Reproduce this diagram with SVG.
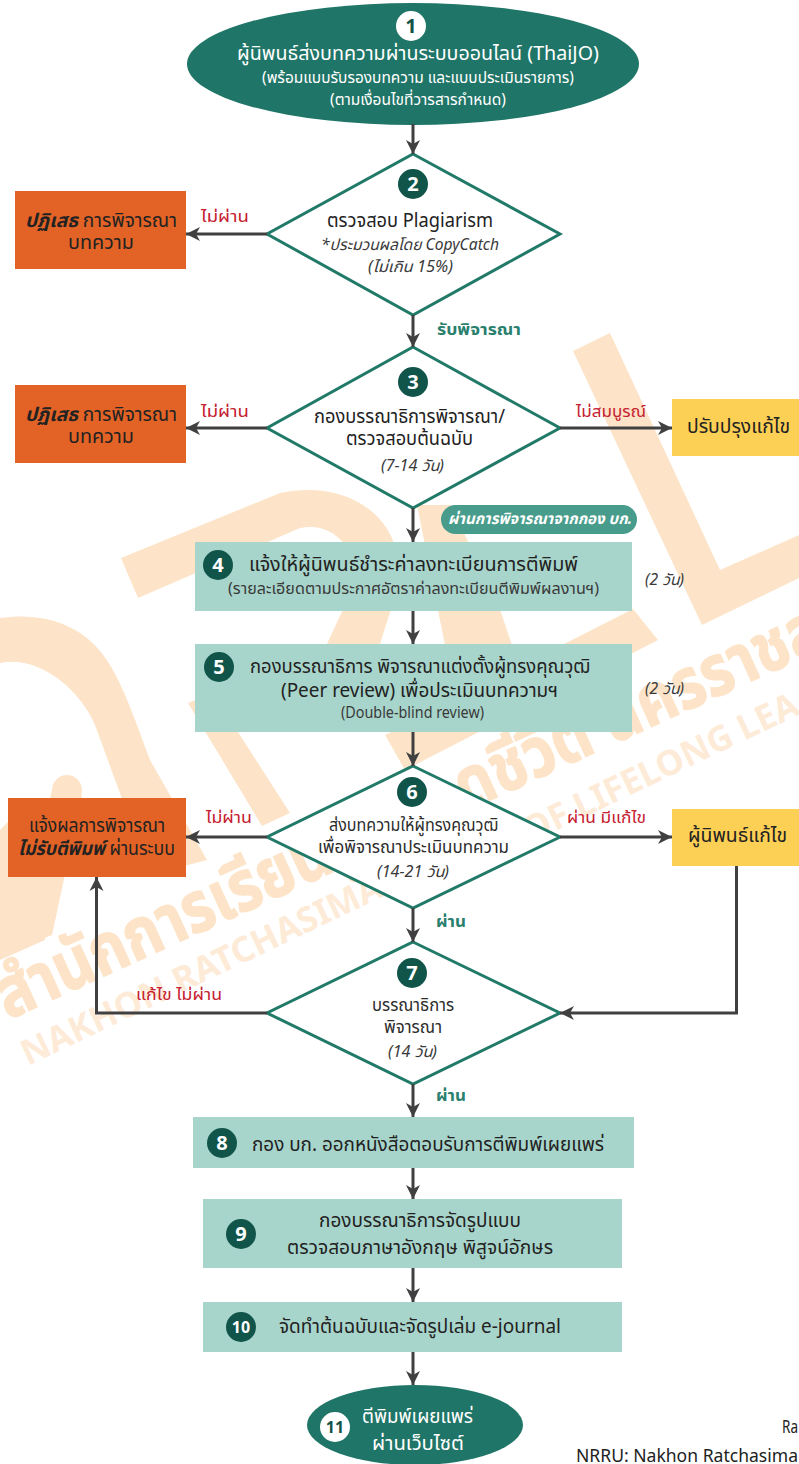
<svg xmlns="http://www.w3.org/2000/svg" width="799" height="1464" viewBox="0 0 799 1464">
<style>
text{font-family:"Noto Sans","Noto Sans Thai","Liberation Sans",sans-serif;fill:#222}
.n{font-size:20px;font-weight:700;fill:#fff;text-anchor:middle}
.nd{font-size:20px;font-weight:700;fill:#135347;text-anchor:middle}
.n2{font-size:16px}
.dot{fill:#10544a}
.wdot{fill:#fff}
.t{font-size:19px}
.m{font-size:17px;fill:#2c2c2c}
.s{font-size:15.500px;fill:#3a3a3a}
.i{font-size:15.500px;font-style:italic;fill:#3a3a3a}
.w{fill:#fff}
.r{font-size:16.500px;fill:#c5202f}
.g{font-size:16.500px;font-weight:700;fill:#2a7f6e}
.dia{fill:#fff;stroke:#217a68;stroke-width:3}
.teal{fill:#a8d5cb}
.red{fill:#e36326}
.yel{fill:#fccf55}
.oval{fill:#1f7567}
.wm{fill:#fde4c8}
.wmt{fill:#fde4c8;stroke:#fde4c8;stroke-width:1.500;font-weight:700;font-size:70px}
.wme{fill:#fdebd8;font-size:35px;font-weight:700}
.c{fill:none;stroke:#404040;stroke-width:3;marker-end:url(#a)}
.b{font-weight:700;font-style:italic}
.f{font-size:17.500px}
</style>
<defs>
<marker id="a" markerUnits="userSpaceOnUse" markerWidth="15" markerHeight="15" refX="14" refY="7" orient="auto" viewBox="0 0 15 14"><path d="M14,7 L0,0 L4,7 L0,14 Z" fill="#404040"/></marker>
</defs>
<rect width="799" height="1464" fill="#fff"/>
<g id="watermark">
<path class="wm" d="M121,558 L138,598 L300,528 C340,520 362,560 352,590 L327,644 L380,644 L397,590 C410,520 350,478 280,493 Z"/>
<path class="wm" d="M417,505 L450,505 L497,600 L530,700 L460,720 L440,620 Z"/>
<path class="wm" d="M188,703 L213,693 L290,813 L262,826 Z"/>
<path class="wm" d="M610,333 L573,351 L702,625 L799,578 L799,535 L720,570 Z"/>
<path class="wm" d="M633,609 L658,640 L405,770 L385,735 Z"/>
<path class="wm" d="M0,618 C40,612 85,622 110,665 C125,690 135,720 150,760 L207,860 L150,875 L95,725 C80,690 40,655 0,663 Z"/>
<circle class="wm" cx="67" cy="790" r="15"/>
<path class="wm" d="M52,790 L82,795 L52,935 L14,950 L0,880 L0,850 L18,940 Z"/>
<path class="wm" d="M0,830 L30,800 L45,940 L0,960 Z"/>
<text class="wmt" transform="translate(8,1020) rotate(-24.5) scale(0.86,1)">สำนักการเรียนรู้ตลอดชีวิต นครราชส</text>
<text class="wme" transform="translate(28,1066) rotate(-25.500)">NAKHON RATCHASIMA</text>
<text class="wme" transform="translate(530,843) rotate(-25.500)">OF LIFELONG LEA</text>
</g>
<g id="node1"><ellipse class="oval" cx="413" cy="64" rx="226" ry="61"/><circle class="wdot" cx="411" cy="26" r="15"/><text class="nd" x="411" y="33">1</text>
<text class="t w" x="237" y="60" textLength="362" lengthAdjust="spacingAndGlyphs">ผู้นิพนธ์ส่งบทความผ่านระบบออนไลน์ (ThaiJO)</text>
<text class="s w" x="262" y="83" textLength="312" lengthAdjust="spacingAndGlyphs">(พร้อมแบบรับรองบทความ และแบบประเมินรายการ)</text>
<text class="s w" x="330" y="105" textLength="176" lengthAdjust="spacingAndGlyphs">(ตามเงื่อนไขที่วารสารกำหนด)</text></g>
<g id="node2"><polygon class="dia" points="413,154 560,234 413,315 267,234"/><circle class="dot" cx="413" cy="184" r="15"/><text class="n" x="413" y="191">2</text>
<text class="t" x="327" y="227" textLength="166" lengthAdjust="spacingAndGlyphs">ตรวจสอบ Plagiarism</text>
<text class="i" x="321" y="250" textLength="178" lengthAdjust="spacingAndGlyphs">*ประมวนผลโดย CopyCatch</text>
<text class="i" x="368" y="272" textLength="85" lengthAdjust="spacingAndGlyphs">(ไม่เกิน 15%)</text></g>
<g id="reject2"><rect class="red" x="15" y="191" width="171" height="78"/>
<text class="t" x="25" y="227" textLength="152" lengthAdjust="spacingAndGlyphs"><tspan class="b">ปฏิเสธ</tspan> การพิจารณา</text>
<text class="t" x="68" y="249" textLength="66" lengthAdjust="spacingAndGlyphs">บทความ</text></g>
<g id="node3"><polygon class="dia" points="413,347 560,428 413,508 267,428"/><circle class="dot" cx="413" cy="382" r="15"/><text class="n" x="413" y="389">3</text>
<text class="t" x="314" y="423" textLength="191" lengthAdjust="spacingAndGlyphs">กองบรรณาธิการพิจารณา/</text>
<text class="t" x="346" y="445" textLength="127" lengthAdjust="spacingAndGlyphs">ตรวจสอบต้นฉบับ</text>
<text class="i" x="381" y="471" textLength="63" lengthAdjust="spacingAndGlyphs">(7-14 วัน)</text></g>
<g id="reject3"><rect class="red" x="15" y="385" width="171" height="78"/>
<text class="t" x="25" y="421" textLength="152" lengthAdjust="spacingAndGlyphs"><tspan class="b">ปฏิเสธ</tspan> การพิจารณา</text>
<text class="t" x="68" y="443" textLength="66" lengthAdjust="spacingAndGlyphs">บทความ</text></g>
<g id="revise3"><rect class="yel" x="672" y="399" width="127" height="57"/>
<text class="t" x="687" y="433" textLength="103" lengthAdjust="spacingAndGlyphs">ปรับปรุงแก้ไข</text></g>
<g id="pill"><rect x="441" y="505" width="196" height="29" rx="14.500" fill="#479c8c"/>
<text class="s w b" x="448" y="524" textLength="184" lengthAdjust="spacingAndGlyphs">ผ่านการพิจารณาจากกอง บก.</text></g>
<g id="node4"><rect class="teal" x="195" y="542" width="437" height="69"/><circle class="dot" cx="218" cy="565" r="15"/><text class="n" x="218" y="572">4</text>
<text class="t" x="249" y="571" textLength="329" lengthAdjust="spacingAndGlyphs">แจ้งให้ผู้นิพนธ์ชำระค่าลงทะเบียนการตีพิมพ์</text>
<text class="s" x="228" y="594" textLength="371" lengthAdjust="spacingAndGlyphs">(รายละเอียดตามประกาศอัตราค่าลงทะเบียนตีพิมพ์ผลงานฯ)</text></g>
<g id="node5"><rect class="teal" x="195" y="644" width="437" height="88"/><circle class="dot" cx="219" cy="667" r="15"/><text class="n" x="219" y="674">5</text>
<text class="t" x="250" y="673" textLength="340" lengthAdjust="spacingAndGlyphs">กองบรรณาธิการ พิจารณาแต่งตั้งผู้ทรงคุณวุฒิ</text>
<text class="t" x="281" y="697" textLength="277" lengthAdjust="spacingAndGlyphs">(Peer review) เพื่อประเมินบทความฯ</text>
<text class="s" x="341" y="718" textLength="143" lengthAdjust="spacingAndGlyphs">(Double-blind review)</text></g>
<g id="time4"><text class="i" x="645" y="585" textLength="39" lengthAdjust="spacingAndGlyphs">(2 วัน)</text></g>
<g id="time5"><text class="i" x="645" y="694" textLength="39" lengthAdjust="spacingAndGlyphs">(2 วัน)</text></g>
<g id="node6"><polygon class="dia" points="413,766 560,837 413,908 267,837"/><circle class="dot" cx="412" cy="792" r="15"/><text class="n" x="412" y="799">6</text>
<text class="m" x="329" y="831" textLength="169" lengthAdjust="spacingAndGlyphs">ส่งบทความให้ผู้ทรงคุณวุฒิ</text>
<text class="m" x="318" y="853" textLength="191" lengthAdjust="spacingAndGlyphs">เพื่อพิจารณาประเมินบทความ</text>
<text class="i" x="377" y="877" textLength="72" lengthAdjust="spacingAndGlyphs">(14-21 วัน)</text></g>
<g id="reject6"><rect class="red" x="8" y="798" width="178" height="79"/>
<text class="t" x="29" y="832" textLength="136" lengthAdjust="spacingAndGlyphs">แจ้งผลการพิจารณา</text>
<text class="t" x="18" y="855" textLength="157" lengthAdjust="spacingAndGlyphs"><tspan class="b">ไม่รับตีพิมพ์</tspan> ผ่านระบบ</text></g>
<g id="revise6"><rect class="yel" x="672" y="809" width="127" height="57"/>
<text class="t" x="688" y="842" textLength="99" lengthAdjust="spacingAndGlyphs">ผู้นิพนธ์แก้ไข</text></g>
<g id="node7"><polygon class="dia" points="413,942 560,1013 413,1084 267,1013"/><circle class="dot" cx="412" cy="973" r="15"/><text class="n" x="412" y="980">7</text>
<text class="m" x="372" y="1011" textLength="82" lengthAdjust="spacingAndGlyphs">บรรณาธิการ</text>
<text class="m" x="384" y="1033" textLength="58" lengthAdjust="spacingAndGlyphs">พิจารณา</text>
<text class="i" x="388" y="1057" textLength="49" lengthAdjust="spacingAndGlyphs">(14 วัน)</text></g>
<g id="node8"><rect class="teal" x="193" y="1117" width="441" height="51"/><circle class="dot" cx="222" cy="1143" r="15"/><text class="n" x="222" y="1150">8</text>
<text class="t" x="252" y="1151" textLength="352" lengthAdjust="spacingAndGlyphs">กอง บก. ออกหนังสือตอบรับการตีพิมพ์เผยแพร่</text></g>
<g id="node9"><rect class="teal" x="203" y="1199" width="419" height="69"/><circle class="dot" cx="241" cy="1234" r="15"/><text class="n" x="241" y="1241">9</text>
<text class="t" x="319" y="1227" textLength="202" lengthAdjust="spacingAndGlyphs">กองบรรณาธิการจัดรูปแบบ</text>
<text class="t" x="287" y="1254" textLength="266" lengthAdjust="spacingAndGlyphs">ตรวจสอบภาษาอังกฤษ พิสูจน์อักษร</text></g>
<g id="node10"><rect class="teal" x="203" y="1302" width="419" height="50"/><circle class="dot" cx="241" cy="1327" r="15"/><text class="n n2" x="241" y="1333">10</text>
<text class="t" x="279" y="1333" textLength="282" lengthAdjust="spacingAndGlyphs">จัดทำต้นฉบับและจัดรูปเล่ม e-journal</text></g>
<g id="node11"><ellipse class="oval" cx="415" cy="1425" rx="108" ry="40"/><circle class="wdot" cx="335" cy="1427" r="15"/><text class="nd n2" x="335" y="1433">11</text>
<text class="t w" x="362" y="1423" textLength="111" lengthAdjust="spacingAndGlyphs">ตีพิมพ์เผยแพร่</text>
<text class="t w" x="372" y="1450" textLength="92" lengthAdjust="spacingAndGlyphs">ผ่านเว็บไซต์</text></g>
<g id="edge-labels">
<text class="r" x="201" y="222" textLength="48" lengthAdjust="spacingAndGlyphs">ไม่ผ่าน</text>
<text class="g" x="437" y="335" textLength="84" lengthAdjust="spacingAndGlyphs">รับพิจารณา</text>
<text class="r" x="201" y="417" textLength="48" lengthAdjust="spacingAndGlyphs">ไม่ผ่าน</text>
<text class="r" x="576" y="417" textLength="70" lengthAdjust="spacingAndGlyphs">ไม่สมบูรณ์</text>
<text class="r" x="206" y="823" textLength="46" lengthAdjust="spacingAndGlyphs">ไม่ผ่าน</text>
<text class="r" x="567" y="823" textLength="79" lengthAdjust="spacingAndGlyphs">ผ่าน มีแก้ไข</text>
<text class="g" x="436" y="927" textLength="30" lengthAdjust="spacingAndGlyphs">ผ่าน</text>
<text class="r" x="136" y="1000" textLength="86" lengthAdjust="spacingAndGlyphs">แก้ไข ไม่ผ่าน</text>
<text class="g" x="436" y="1101" textLength="30" lengthAdjust="spacingAndGlyphs">ผ่าน</text>
</g>
<g id="footer">
<text class="f" x="782" y="1433" textLength="16" lengthAdjust="spacingAndGlyphs">Ra</text>
<text class="f" x="576" y="1462" textLength="222" lengthAdjust="spacingAndGlyphs">NRRU: Nakhon Ratchasima</text>
</g>
<g id="connectors">
<path class="c" d="M413,124 V154"/>
<path class="c" d="M267,234 H186"/>
<path class="c" d="M413,315 V347"/>
<path class="c" d="M267,428 H186"/>
<path class="c" d="M560,428 H672"/>
<path class="c" d="M413,508 V542"/>
<path class="c" d="M413,611 V644"/>
<path class="c" d="M413,732 V766"/>
<path class="c" d="M267,837 H186"/>
<path class="c" d="M560,837 H672"/>
<path class="c" d="M413,908 V942"/>
<path class="c" d="M267,1013 H96.500 V877"/>
<path class="c" d="M736.500,866 V1013 H560"/>
<path class="c" d="M413,1084 V1117"/>
<path class="c" d="M413,1168 V1199"/>
<path class="c" d="M413,1268 V1302"/>
<path class="c" d="M413,1352 V1385"/>
</g>
</svg>
